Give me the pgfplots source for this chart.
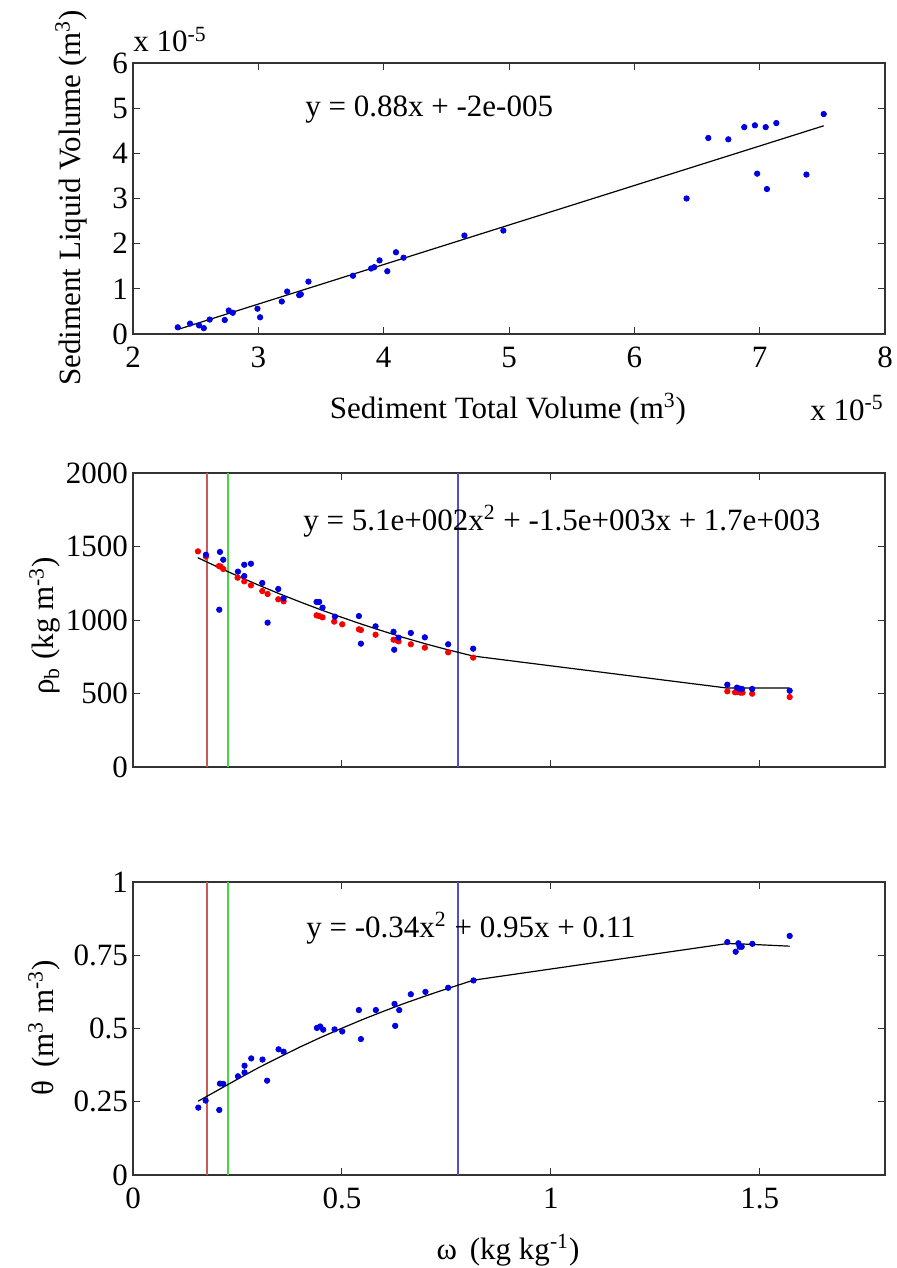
\documentclass[border=0pt]{standalone}
\usepackage{pgfplots}
\pgfplotsset{compat=1.18}
\usepackage{fontspec}
\setmainfont{Liberation Serif}
\newcommand\fs{\fontsize{15.5}{18}\selectfont}
\definecolor{ptblue}{RGB}{0,0,225}
\definecolor{ptred}{RGB}{250,0,0}
\definecolor{vred}{RGB}{200,90,90}
\definecolor{vgreen}{RGB}{70,215,70}
\definecolor{vblue}{RGB}{80,80,200}
\pgfplotsset{
  every axis/.append style={
    scale only axis,
    axis line style={black!80,line width=0.6pt},
    tick style={black!80,line width=0.5pt},
    tick align=inside,
    major tick length=3.5pt,
    xtick pos=both, ytick pos=both,
    /pgf/number format/assume math mode=true,
    /pgf/number format/1000 sep={},
    tick label style={font=\fs},
    xticklabel style={yshift=-3pt},
    yticklabel style={xshift=1pt},
    anchor=south west,
  },
  pts/.style={only marks, mark=*, mark size=1.35pt},
  fit/.style={black, line width=0.6pt, no marks},
}
\begin{document}
\begin{tikzpicture}
\useasboundingbox (0,0) rectangle (448pt,-634pt);
% ---------------- Panel 1 ----------------
\begin{axis}[at={(66.5pt,-167pt)}, width=376pt, height=135.5pt,
  xmin=2, xmax=8, ymin=0, ymax=6,
  xtick={2,3,4,5,6,7,8}, ytick={0,1,2,3,4,5,6}]
\addplot[pts, ptblue] coordinates {
(2.357,0.148) (2.455,0.23) (2.527,0.19) (2.565,0.13) (2.612,0.32)
(2.732,0.31) (2.764,0.52) (2.796,0.47) (2.993,0.56) (3.014,0.37)
(3.187,0.72) (3.230,0.94) (3.326,0.86) (3.339,0.88) (3.400,1.16)
(3.755,1.29) (3.900,1.45) (3.925,1.48) (3.967,1.63) (4.029,1.39)
(4.098,1.81) (4.159,1.69) (4.644,2.18) (4.955,2.29) (6.417,3.00)
(6.590,4.34) (6.750,4.31) (6.877,4.58) (6.962,4.62) (6.980,3.55)
(7.048,4.58) (7.058,3.21) (7.133,4.67) (7.373,3.53) (7.511,4.87)};
\addplot[fit] coordinates {(2.357,0.10) (7.511,4.61)};
\end{axis}
\node[anchor=base west, font=\fs, inner sep=0] at (66.5pt,-26pt) {x 10\textsuperscript{-5}};
\node[anchor=base east, font=\fs, inner sep=0] at (442pt,-210pt) {x 10\textsuperscript{-5}};
\node[anchor=base west, font=\fs, inner sep=0] at (152.5pt,-58.5pt) {y = 0.88x + -2e-005};
\node[anchor=base, font=\fs, inner sep=0] at (254pt,-209pt) {Sediment Total Volume (m\textsuperscript{3})};
\node[anchor=base, rotate=90, font=\fs, inner sep=0] at (40pt,-99pt) {Sediment Liquid Volume (m\textsuperscript{3})};
% ---------------- Panel 2 ----------------
\begin{axis}[at={(66.5pt,-383.5pt)}, width=376pt, height=147pt,
  xmin=0, xmax=1.8, ymin=0, ymax=2000,
  xtick={0,0.5,1,1.5}, xticklabels={}, ytick={0,500,1000,1500,2000}]
\addplot[vred, line width=0.8pt] coordinates {(0.1777,0) (0.1777,2000)};
\addplot[vgreen, line width=0.8pt] coordinates {(0.228,0) (0.228,2000)};
\addplot[vblue, line width=0.8pt] coordinates {(0.778,0) (0.778,2000)};
\addplot[pts, ptred] coordinates {
(0.1555,1467) (0.1746,1431) (0.2057,1367) (0.2097,1363) (0.216,1347)
(0.2504,1288) (0.2663,1263) (0.2823,1236) (0.3094,1197) (0.3222,1177)
(0.3477,1141) (0.3605,1127) (0.4394,1032) (0.4457,1027) (0.4537,1018)
(0.4816,989) (0.5008,971) (0.5407,937) (0.5455,932) (0.5806,900)
(0.6236,866) (0.6308,864) (0.6356,855) (0.665,835) (0.6986,812)
(0.7544,780) (0.8142,744)
(1.4226,515) (1.441,508) (1.447,510) (1.454,506) (1.459,506) (1.482,499) (1.5718,476)};
\addplot[pts, ptblue] coordinates {
(0.1746,1444) (0.2081,1463) (0.216,1410) (0.2065,1070) (0.2512,1329)
(0.2663,1376) (0.2823,1383) (0.2663,1299) (0.3094,1252) (0.3222,982)
(0.3477,1211) (0.3605,1148) (0.4394,1123) (0.4457,1123) (0.4537,1084)
(0.4833,1023) (0.5407,1027) (0.5455,839) (0.5806,957) (0.6236,920)
(0.6252,798) (0.6356,880) (0.665,912) (0.6986,882) (0.7544,835)
(0.8142,805)
(1.4226,560) (1.4457,540) (1.4522,533) (1.4577,531) (1.482,531) (1.5718,519)};
\addplot[fit] coordinates {
(0.155,1424) (0.2,1364) (0.25,1300) (0.3,1238) (0.35,1179) (0.4,1123)
(0.45,1069) (0.5,1018) (0.55,969) (0.6,923) (0.65,879) (0.7,838)
(0.75,800) (0.8142,755) (1.4226,537) (1.45,537) (1.482,537) (1.5718,537)};
\end{axis}
\node[anchor=base west, font=\fs, inner sep=0] at (151.5pt,-265pt) {y = 5.1e+002x\textsuperscript{2} + -1.5e+003x + 1.7e+003};
\node[anchor=base, rotate=90, font=\fs, inner sep=0] at (27pt,-313pt) {ρ\textsubscript{b} (kg m\textsuperscript{-3})};
% ---------------- Panel 3 ----------------
\begin{axis}[at={(66.5pt,-587.5pt)}, width=376pt, height=146.5pt,
  xmin=0, xmax=1.8, ymin=0, ymax=1,
  xtick={0,0.5,1,1.5}, ytick={0,0.25,0.5,0.75,1},
  xticklabels={0,0.5,1,1.5}, yticklabels={0,0.25,0.5,0.75,1}]
\addplot[vred, line width=0.8pt] coordinates {(0.1777,0) (0.1777,1)};
\addplot[vgreen, line width=0.8pt] coordinates {(0.228,0) (0.228,1)};
\addplot[vblue, line width=0.8pt] coordinates {(0.778,0) (0.778,1)};
\addplot[pts, ptblue] coordinates {
(0.1563,0.230) (0.1739,0.254) (0.2065,0.222) (0.2081,0.312) (0.216,0.311)
(0.2512,0.337) (0.267,0.350) (0.267,0.373) (0.283,0.398) (0.310,0.394)
(0.321,0.322) (0.3485,0.429) (0.3605,0.421) (0.4402,0.502) (0.448,0.507)
(0.4553,0.496) (0.4825,0.497) (0.5008,0.490) (0.5407,0.563) (0.5455,0.464)
(0.5813,0.563) (0.626,0.584) (0.6276,0.509) (0.6372,0.563) (0.665,0.617)
(0.700,0.625) (0.7544,0.639) (0.815,0.664)
(1.4226,0.795) (1.4426,0.762) (1.449,0.791) (1.452,0.779) (1.457,0.779)
(1.4825,0.789) (1.5718,0.816)};
\addplot[fit] coordinates {
(0.156,0.252) (0.2,0.287) (0.25,0.327) (0.3,0.366) (0.35,0.402) (0.4,0.437)
(0.45,0.470) (0.5,0.501) (0.55,0.531) (0.6,0.559) (0.65,0.586) (0.7,0.611)
(0.75,0.635) (0.815,0.665) (1.4226,0.790) (1.45,0.789) (1.482,0.787) (1.5718,0.781)};
\end{axis}
\node[anchor=base west, font=\fs, inner sep=0] at (153pt,-468.5pt) {y = -0.34x\textsuperscript{2} + 0.95x + 0.11};
\node[anchor=base, rotate=90, font=\fs, inner sep=0] at (26.5pt,-514pt) {θ\, (m\textsuperscript{3} m\textsuperscript{-3})};
\node[anchor=base, font=\fs, inner sep=0] at (254pt,-629.5pt) {ω\, (kg kg\textsuperscript{-1})};
\end{tikzpicture}
\end{document}
